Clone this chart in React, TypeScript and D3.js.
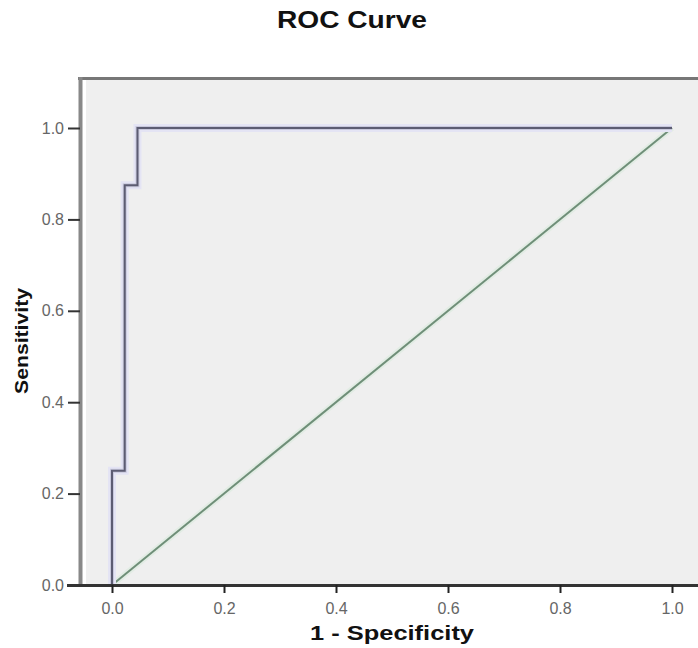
import React, { useEffect, useRef } from "react";
import * as d3 from "d3";

const titleText = "ROC Curve";
const xLabel = "1 - Specificity";
const yLabel = "Sensitivity";
const tickValues = [0, 0.2, 0.4, 0.6, 0.8, 1.0];
const rocFpr = [0, 0, 0.0227, 0.0227, 0.0455, 0.0455, 1.0];
const rocTpr = [0, 0.25, 0.25, 0.875, 0.875, 1.0, 1.0];
const refFpr = [0, 1];
const refTpr = [0, 1];

const W = 698;
const H = 648;

export default function App() {
  const ref = useRef<SVGSVGElement>(null);
  useEffect(() => {
    const svg = d3.select(ref.current);
    svg.selectAll("*").remove();
    const x = d3.scaleLinear().domain([0, 1]).range([112, 672]);
    const y = d3.scaleLinear().domain([0, 1]).range([585, 128]);
    const font = "'Liberation Sans', Arial, sans-serif";

    svg.append("rect").attr("width", W).attr("height", H).attr("fill", "#ffffff");
    // plot background
    svg.append("rect").attr("x", 86).attr("y", 80).attr("width", W - 86).attr("height", 504).attr("fill", "#efefef");
    // frame top
    svg.append("line").attr("x1", 78).attr("x2", W).attr("y1", 78.5).attr("y2", 78.5).attr("stroke", "#777").attr("stroke-width", 3);
    // frame left
    svg.append("line").attr("x1", 80.5).attr("x2", 80.5).attr("y1", 77).attr("y2", 586).attr("stroke", "#888").attr("stroke-width", 4);

    // reference diagonal
    const refData = refFpr.map((v, i) => [v, refTpr[i]] as [number, number]);
    const line = d3.line<[number, number]>().x(d => x(d[0])).y(d => y(d[1]));
    svg.append("path").attr("d", line(refData)).attr("fill", "none").attr("stroke", "#e2ece4").attr("stroke-width", 6);
    svg.append("path").attr("d", line(refData)).attr("fill", "none").attr("stroke", "#6f8f78").attr("stroke-width", 2);

    // ROC curve
    const roc = rocFpr.map((v, i) => [v, rocTpr[i]] as [number, number]);
    svg.append("path").attr("d", line(roc)).attr("fill", "none").attr("stroke", "#e4e4f4").attr("stroke-width", 8);
    svg.append("path").attr("d", line(roc)).attr("fill", "none").attr("stroke", "#c8c8dc").attr("stroke-width", 4);
    svg.append("path").attr("d", line(roc)).attr("fill", "none").attr("stroke", "#5c5c72").attr("stroke-width", 2);

    // x axis
    svg.append("line").attr("x1", 67).attr("x2", W).attr("y1", 585.5).attr("y2", 585.5).attr("stroke", "#333").attr("stroke-width", 3);
    const xa = svg.append("g").attr("transform", "translate(0,585)")
      .call(d3.axisBottom(x).tickValues(tickValues).tickFormat(d3.format(".1f")).tickSize(8).tickPadding(6));
    xa.select(".domain").remove();
    xa.selectAll("line").attr("stroke", "#222").attr("stroke-width", 2);
    xa.selectAll("text").attr("font-family", font).attr("font-size", 16).attr("fill", "#666").attr("dy", "0.95em");

    // y axis
    const ya = svg.append("g").attr("transform", "translate(80,0)")
      .call(d3.axisLeft(y).tickValues(tickValues).tickFormat(d3.format(".1f")).tickSize(12).tickPadding(4));
    ya.select(".domain").remove();
    ya.selectAll("line").attr("stroke", "#333").attr("stroke-width", 2);
    ya.selectAll("text").attr("font-family", font).attr("font-size", 16).attr("fill", "#666");

    // title
    svg.append("text").attr("x", 352).attr("y", 28).attr("text-anchor", "middle")
      .attr("font-family", font).attr("font-weight", "bold").attr("font-size", 24)
      .attr("textLength", 150).attr("lengthAdjust", "spacingAndGlyphs")
      .attr("fill", "#111").text(titleText);
    // x label
    svg.append("text").attr("x", 392).attr("y", 640).attr("text-anchor", "middle")
      .attr("font-family", font).attr("font-weight", "bold").attr("font-size", 20)
      .attr("textLength", 164).attr("lengthAdjust", "spacingAndGlyphs")
      .attr("fill", "#111").text(xLabel);
    // y label
    svg.append("text").attr("transform", "translate(28,341) rotate(-90)").attr("text-anchor", "middle")
      .attr("font-family", font).attr("font-weight", "bold").attr("font-size", 19)
      .attr("textLength", 106).attr("lengthAdjust", "spacingAndGlyphs")
      .attr("fill", "#111").text(yLabel);
  }, []);
  return (
    <svg ref={ref} width={W} height={H} style={{ position: "absolute", left: 0, top: 0, display: "block" }} />
  );
}
